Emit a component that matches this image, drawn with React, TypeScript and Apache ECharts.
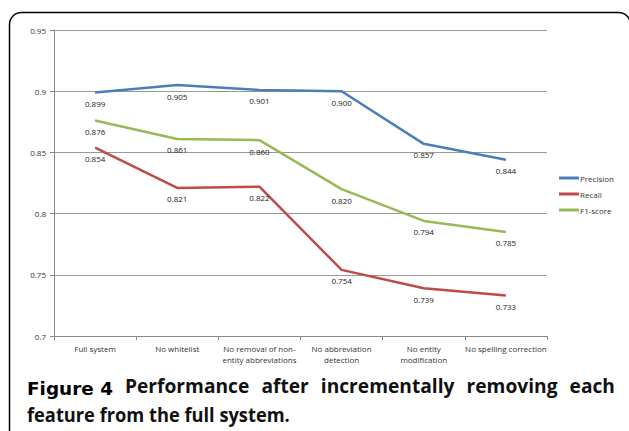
import React, { useEffect, useRef } from "react";
import * as echarts from "echarts";

const categories = [
  "Full system",
  "No whitelist",
  "No removal of non-\nentity abbreviations",
  "No abbreviation\ndetection",
  "No entity\nmodification",
  "No spelling correction",
];
const precision = [0.899, 0.905, 0.901, 0.9, 0.857, 0.844];
const recall = [0.854, 0.821, 0.822, 0.754, 0.739, 0.733];
const f1 = [0.876, 0.861, 0.86, 0.82, 0.794, 0.785];
const seriesNames = ["Precision", "Recall", "F1-score"];
const colors = ["#4A7EBB", "#BE4B48", "#98B954"];
const captionLabel = "Figure 4";
const captionLine1Words = ["Performance", "after", "incrementally", "removing", "each"];
const captionLine2 = "feature from the full system.";

export default function App() {
  const ref = useRef<HTMLDivElement>(null);
  useEffect(() => {
    document.body.style.margin = "0";
    const chart = echarts.init(ref.current!, null, { renderer: "svg" });
    const font = "'Open Sans', 'DejaVu Sans', sans-serif";
    const capFont = `bold 19px ${font}`;
    const figFont = `bold 18.5px 'DejaVu Sans', sans-serif`;
    const ctx = document.createElement("canvas").getContext("2d")!;
    const measure = (t: string, f: string) => {
      ctx.font = f;
      return ctx.measureText(t).width || 1;
    };
    // justified caption layout
    const capLeft = 27;
    const capRight = 615;
    const labelW = 86;
    const line2W = 263;
    const gap = 12;
    const s2 = line2W / measure(captionLine2, capFont);
    const natural = captionLine1Words.map((w) => measure(w, capFont));
    const s1 =
      (capRight - capLeft - labelW - gap * captionLine1Words.length) /
      natural.reduce((a, b) => a + b, 0);
    let cx = capLeft + labelW + gap;
    const line1 = captionLine1Words.map((w, i) => {
      const el = {
        type: "text",
        x: cx,
        y: 377,
        scaleX: s1,
        style: { text: w, font: capFont, fill: "#111", textVerticalAlign: "top" },
      };
      cx += natural[i] * s1 + gap;
      return el;
    });

    const mk = (name: string, data: number[], color: string) => ({
      name,
      type: "line",
      data,
      symbol: "circle",
      symbolSize: 0,
      showSymbol: true,
      lineStyle: { color, width: 2.5 },
      itemStyle: { color },
      label: {
        show: true,
        position: "bottom",
        distance: 7,
        formatter: (p: any) => p.value.toFixed(3),
        fontSize: 8,
        color: "#222",
        fontFamily: font,
      },
    });
    chart.setOption({
      animation: false,
      backgroundColor: "#fff",
      grid: { left: 54, right: 82, top: 30, bottom: 95 },
      legend: {
        orient: "vertical",
        left: 559,
        top: 174,
        padding: 0,
        itemWidth: 20,
        itemHeight: 3,
        itemGap: 8,
        icon: "rect",
        textStyle: { fontSize: 8, color: "#333", fontFamily: font, padding: [0, 0, 0, -4] },
        data: seriesNames,
      },
      xAxis: {
        type: "category",
        data: categories,
        boundaryGap: true,
        axisLine: { lineStyle: { color: "#888", width: 1 } },
        axisTick: { show: true, length: 4, lineStyle: { color: "#888" } },
        axisLabel: {
          fontSize: 8,
          color: "#333",
          fontFamily: font,
          lineHeight: 11,
          margin: 7,
          interval: 0,
        },
      },
      yAxis: {
        type: "value",
        min: 0.7,
        max: 0.95,
        interval: 0.05,
        axisLine: { show: true, lineStyle: { color: "#888", width: 1 } },
        axisTick: { show: true, length: 4, lineStyle: { color: "#888" } },
        splitLine: { lineStyle: { color: "#999", width: 1 } },
        axisLabel: {
          fontSize: 8,
          color: "#333",
          fontFamily: font,
          margin: 8,
          formatter: (v: number) => String(parseFloat(v.toFixed(2))),
        },
      },
      series: [
        mk(seriesNames[0], precision, colors[0]),
        mk(seriesNames[1], recall, colors[1]),
        mk(seriesNames[2], f1, colors[2]),
      ],
      graphic: [
        {
          type: "rect",
          shape: { x: 9.5, y: 12.5, width: 621, height: 440, r: 12 },
          style: { fill: "none", stroke: "#000", lineWidth: 1.5 },
          silent: true,
          z: 100,
        },
        {
          type: "text",
          x: capLeft,
          y: 379,
          scaleX: labelW / measure(captionLabel, figFont),
          style: {
            text: captionLabel,
            font: figFont,
            fill: "#000",
            textVerticalAlign: "top",
          },
        },
        ...line1,
        {
          type: "text",
          x: capLeft,
          y: 405,
          scaleX: s2,
          style: {
            text: captionLine2,
            font: capFont,
            fill: "#111",
            textVerticalAlign: "top",
          },
        },
      ],
    });
    return () => chart.dispose();
  }, []);
  return <div ref={ref} style={{ width: 629, height: 431 }} />;
}
